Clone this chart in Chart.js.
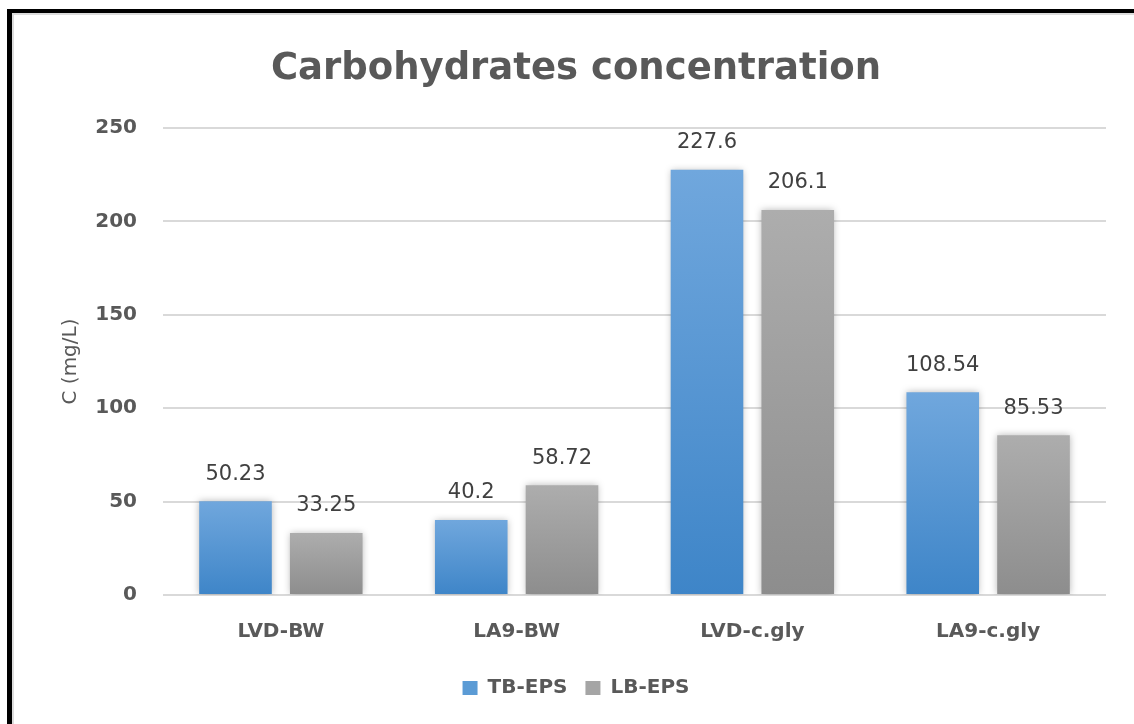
<!DOCTYPE html>
<html>
<head>
<meta charset="utf-8">
<title>Carbohydrates concentration</title>
<script src="https://cdn.jsdelivr.net/npm/chart.js@4.4.1/dist/chart.umd.min.js"></script>
<style>
  html, body { margin: 0; padding: 0; background: #ffffff; overflow: hidden; }
  #wrap { position: absolute; left: 0; top: 0; width: 1134px; height: 724px; }
  #frame {
    position: absolute; left: 7px; top: 9px; width: 1140px; height: 730px;
    border-left: 5px solid #000; border-top: 4px solid #000; pointer-events: none;
  }
  #frame-inner {
    position: absolute; left: 0; top: 0; width: 100%; height: 100%;
    border-left: 2px solid #dcdcdc; border-top: 2px solid #dcdcdc;
  }
  canvas { position: absolute; left: 0; top: 0; }
</style>
</head>
<body>
<div id="wrap">
  <canvas id="chart" width="1134" height="724"></canvas>
  <div id="frame"><div id="frame-inner"></div></div>
</div>
<script>
// Samples and measured carbohydrate concentrations (mg/L)
const categories = ['LVD-BW', 'LA9-BW', 'LVD-c.gly', 'LA9-c.gly'];
const tbEps = [50.23, 40.2, 227.6, 108.54];
const lbEps = [33.25, 58.72, 206.1, 85.53];
const seriesNames = ['TB-EPS', 'LB-EPS'];
const yTicks = [0, 50, 100, 150, 200, 250];

const FONT = "'DejaVu Sans', sans-serif";
const TEXT = '#595959';

// Vertical gradient for each bar, from its top to the baseline
function barGradient(top, bottom) {
  return function (ctx) {
    const chart = ctx.chart;
    const y = chart.scales && chart.scales.y;
    if (ctx.type !== 'data' || !y || y.top === undefined) return top;
    const yTop = y.getPixelForValue(ctx.raw);
    const yBase = y.getPixelForValue(0);
    if (!isFinite(yTop) || !isFinite(yBase) || yTop === yBase) return top;
    const g = chart.ctx.createLinearGradient(0, yTop, 0, yBase);
    g.addColorStop(0, top);
    g.addColorStop(1, bottom);
    return g;
  };
}

const solid = ['#5b9bd5', '#a5a5a5'];

// Soft shadow around the bars
const barShadow = {
  id: 'barShadow',
  beforeDatasetsDraw(chart) {
    const c = chart.ctx;
    c.save();
    c.shadowColor = 'rgba(0,0,0,0.28)';
    c.shadowBlur = 7;
    c.shadowOffsetX = 0;
    c.shadowOffsetY = 0;
  },
  afterDatasetsDraw(chart) {
    chart.ctx.restore();
  }
};

// Value labels above every bar
const valueLabels = {
  id: 'valueLabels',
  afterDatasetsDraw(chart) {
    const c = chart.ctx;
    c.save();
    c.font = '21px ' + FONT;
    c.fillStyle = '#404040';
    c.textAlign = 'center';
    c.textBaseline = 'middle';
    chart.data.datasets.forEach((ds, di) => {
      const meta = chart.getDatasetMeta(di);
      meta.data.forEach((bar, i) => {
        c.fillText(String(ds.data[i]), bar.x, bar.y - 27);
      });
    });
    c.restore();
  }
};

new Chart(document.getElementById('chart'), {
  type: 'bar',
  data: {
    labels: categories,
    datasets: [
      {
        label: seriesNames[0],
        data: tbEps,
        backgroundColor: barGradient('#70a7dd', '#3e85c8'),
        categoryPercentage: 0.77,
        barPercentage: 0.8
      },
      {
        label: seriesNames[1],
        data: lbEps,
        backgroundColor: barGradient('#adadad', '#8d8d8d'),
        categoryPercentage: 0.77,
        barPercentage: 0.8
      }
    ]
  },
  options: {
    responsive: false,
    animation: false,
    devicePixelRatio: 1,
    layout: { padding: { left: 46, right: 28, top: 0, bottom: 16 } },
    plugins: {
      title: {
        display: true,
        text: 'Carbohydrates concentration',
        color: TEXT,
        font: { family: FONT, size: 37, weight: 'bold' },
        padding: { top: 47, bottom: 36.6 }
      },
      legend: {
        position: 'bottom',
        labels: {
          color: TEXT,
          font: { family: FONT, size: 20, weight: 'bold' },
          boxWidth: 15,
          boxHeight: 14,
          padding: 18,
          generateLabels(chart) {
            const items = Chart.defaults.plugins.legend.labels.generateLabels(chart);
            items.forEach((it, i) => {
              it.fillStyle = solid[i];
              it.strokeStyle = solid[i];
              it.lineWidth = 0;
            });
            return items;
          }
        }
      },
      tooltip: { enabled: false }
    },
    scales: {
      x: {
        afterFit(scale) { scale.height = 65; },
        grid: { display: false, drawTicks: false },
        border: { display: false },
        ticks: {
          color: TEXT,
          font: { family: FONT, size: 20, weight: 'bold' },
          padding: 25
        }
      },
      y: {
        min: 0,
        max: 250,
        afterBuildTicks(scale) {
          scale.ticks = yTicks.map(v => ({ value: v }));
        },
        afterFit(scale) { scale.width = 117; },
        grid: { color: '#d9d9d9', lineWidth: 2, drawTicks: false },
        border: { display: false },
        ticks: {
          color: TEXT,
          font: { family: FONT, size: 20, weight: 'bold' },
          padding: 26
        },
        title: {
          display: true,
          text: 'C (mg/L)',
          color: TEXT,
          font: { family: FONT, size: 20 },
          padding: { top: 13, bottom: 0 }
        }
      }
    }
  },
  plugins: [barShadow, valueLabels]
});
</script>
</body>
</html>
